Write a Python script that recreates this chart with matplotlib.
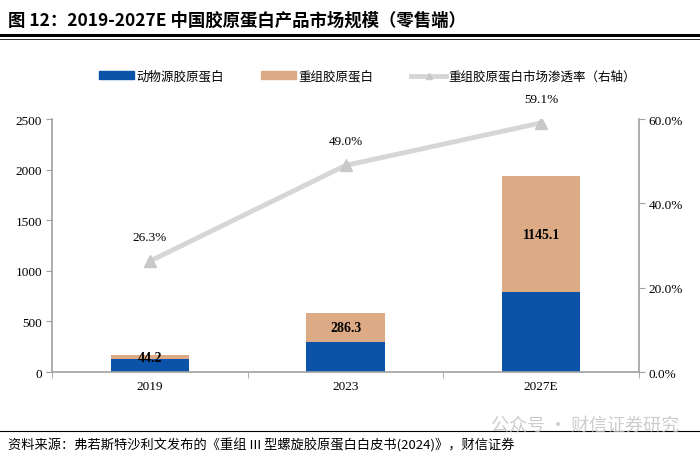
import numpy as np
import matplotlib.pyplot as plt
from matplotlib.lines import Line2D
from matplotlib.patches import Patch

plt.rcParams['font.family'] = ['Liberation Serif', 'Noto Sans CJK SC', 'DejaVu Sans']

years = ['2019', '2023', '2027E']
animal = [125, 296, 790]          # 动物源胶原蛋白
recomb = [44.2, 286.3, 1145.1]    # 重组胶原蛋白
rate = [26.3, 49.0, 59.1]         # 渗透率 %

c_blue = '#0a53a8'
c_tan = '#dcaa84'
c_line = '#d6d6d6'
c_axis = '#a0a0a0'

fig = plt.figure(figsize=(7, 4.6), dpi=100)
ax = fig.add_axes([0.0743, 0.189, 0.8386, 0.55])
x = np.arange(len(years))

ax.bar(x, animal, width=0.4, color=c_blue, label='动物源胶原蛋白', zorder=2)
ax.bar(x, recomb, width=0.4, bottom=animal, color=c_tan, label='重组胶原蛋白', zorder=2)
for i in range(len(years)):
    ax.text(x[i], animal[i] + recomb[i] / 2, f'{recomb[i]:.1f}', ha='center', va='center',
            fontsize=10, fontweight='bold', color='black', zorder=4)

ax.set_xlim(-0.5, 2.5)
ax.set_ylim(0, 2500)
ax.set_yticks([0, 500, 1000, 1500, 2000, 2500])
ax.set_xticks(x)
ax.set_xticklabels(years)
ax.set_xticks([-0.5, 0.5, 1.5, 2.5], minor=True)
ax.tick_params(axis='x', which='major', length=0, pad=6, labelsize=9.5)
ax.tick_params(axis='x', which='minor', length=4, color=c_axis)
ax.tick_params(axis='y', length=4, color=c_axis, labelsize=9.5, pad=3)
for s in ['top', 'right']:
    ax.spines[s].set_visible(False)
for s in ['left', 'bottom']:
    ax.spines[s].set_color(c_axis)
    ax.spines[s].set_linewidth(1.2)

ax2 = ax.twinx()
ax2.plot(x, rate, color=c_line, lw=3.5, marker='^', markersize=8,
         markerfacecolor='#c8c8c8', markeredgecolor='#c8c8c8', zorder=3,
         label='重组胶原蛋白市场渗透率（右轴）')
for i in range(len(years)):
    ax2.annotate(f'{rate[i]:.1f}%', (x[i], rate[i]), xytext=(0, 13), textcoords='offset points',
                 ha='center', va='bottom', fontsize=9.5)
ax2.set_ylim(0, 60)
ax2.set_yticks([0, 20, 40, 60])
ax2.set_yticklabels(['0.0%', '20.0%', '40.0%', '60.0%'])
ax2.tick_params(axis='y', length=4, color=c_axis, labelsize=9.5, pad=3)
for s in ['top', 'left', 'bottom']:
    ax2.spines[s].set_visible(False)
ax2.spines['right'].set_color(c_axis)
ax2.spines['right'].set_linewidth(1.2)

handles = [Patch(color=c_blue), Patch(color=c_tan),
           Line2D([0], [0], color=c_line, lw=3.5, marker='^', markersize=5,
                  markerfacecolor='#c8c8c8', markeredgecolor='#c8c8c8')]
labels = ['动物源胶原蛋白', '重组胶原蛋白', '重组胶原蛋白市场渗透率（右轴）']
fig.legend(handles, labels, loc='center', bbox_to_anchor=(0.525, 0.832), ncol=3, frameon=False,
           handlelength=2.8, handleheight=0.6, columnspacing=3.0, handletextpad=0.2,
           prop={'family': ['Noto Sans CJK SC', 'DejaVu Sans'], 'size': 9})

fig.text(0.012, 0.955, '图 12：2019-2027E 中国胶原蛋白产品市场规模（零售端）', fontsize=12.5,
         fontweight='bold', va='center', ha='left', family=['Noto Sans CJK SC', 'DejaVu Sans'])
fig.add_artist(Line2D([0, 1], [0.921, 0.921], color='black', lw=2.2))
fig.add_artist(Line2D([0, 1], [0.913, 0.913], color='black', lw=0.6))
fig.add_artist(Line2D([0, 1], [0.061, 0.061], color='black', lw=0.8))
fig.text(0.012, 0.032, '资料来源：弗若斯特沙利文发布的《重组 III 型螺旋胶原蛋白白皮书(2024)》，财信证券',
         fontsize=9.5, va='center', ha='left', style='italic',
         family=['Noto Sans CJK SC', 'DejaVu Sans'])
fig.text(0.97, 0.075, '公众号 · 财信证券研究', fontsize=13, color='#c0c0c0', alpha=0.8,
         va='center', ha='right', family=['Noto Sans CJK SC', 'DejaVu Sans'])

fig.savefig('out.png', dpi=100)
